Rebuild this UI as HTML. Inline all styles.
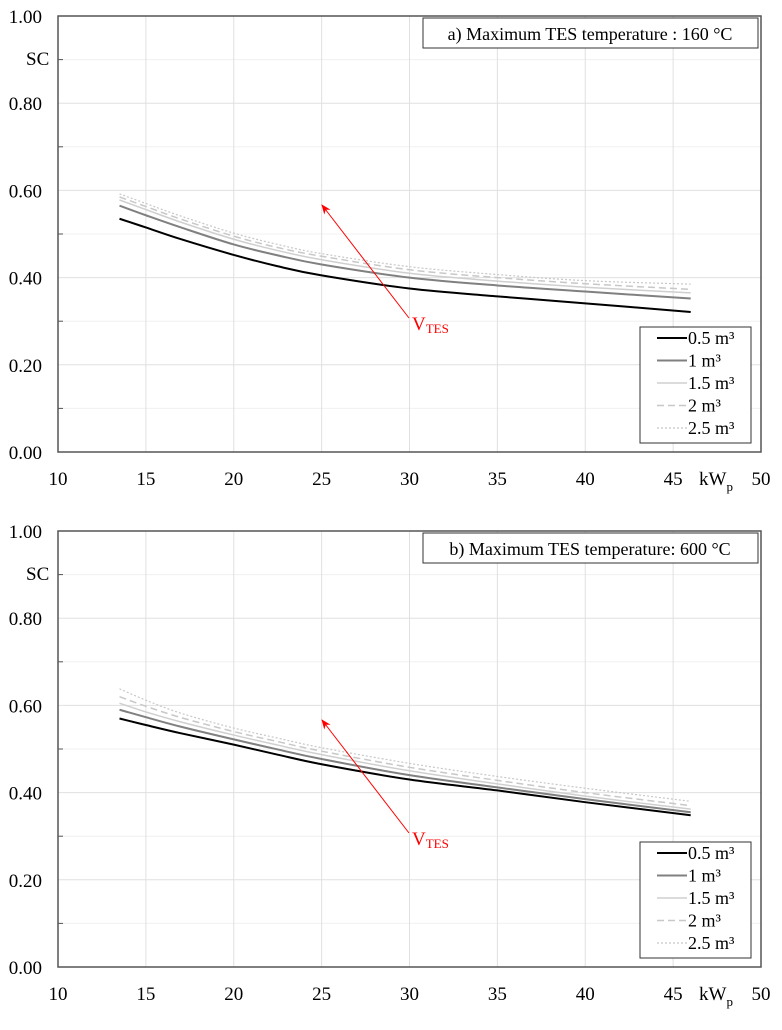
<!DOCTYPE html>
<html><head><meta charset="utf-8"><style>
body{margin:0;background:#fff;}
svg text{font-family:"Liberation Serif",serif;fill:#000;}
</style></head><body>
<svg id="c" width="782" height="1025" xmlns="http://www.w3.org/2000/svg"></svg>
<script>
const xVals=[13.5,15,17,20,22.5,25,30,35,40,46];
const seriesNames=["0.5 m³","1 m³","1.5 m³","2 m³","2.5 m³"];
const a05=[0.535,0.515,0.488,0.452,0.426,0.405,0.375,0.357,0.341,0.321];
const a1=[0.565,0.543,0.515,0.476,0.451,0.430,0.400,0.382,0.368,0.352];
const a15=[0.578,0.556,0.527,0.488,0.462,0.441,0.410,0.392,0.378,0.365];
const a2=[0.585,0.563,0.534,0.495,0.469,0.449,0.418,0.400,0.386,0.373];
const a25=[0.592,0.570,0.541,0.502,0.476,0.455,0.425,0.407,0.393,0.385];
const b05=[0.570,0.555,0.536,0.510,0.487,0.465,0.430,0.405,0.378,0.348];
const b1=[0.590,0.573,0.551,0.522,0.499,0.477,0.440,0.412,0.385,0.355];
const b15=[0.605,0.585,0.562,0.532,0.509,0.487,0.450,0.420,0.392,0.362];
const b2=[0.620,0.598,0.572,0.540,0.517,0.495,0.458,0.428,0.400,0.370];
const b25=[0.638,0.612,0.582,0.548,0.525,0.503,0.467,0.437,0.410,0.380];
const xTicks=[10,15,20,25,30,35,40,45,50];
const yTicks=[0,0.2,0.4,0.6,0.8,1.0];
const titles=["a) Maximum TES temperature : 160 °C","b) Maximum TES temperature: 600 °C"];

const NS="http://www.w3.org/2000/svg";
const svg=document.getElementById('c');
function mk(t,at,p){const e=document.createElementNS(NS,t);for(const k in at)e.setAttribute(k,at[k]);(p||svg).appendChild(e);return e;}
const styles=[{s:"#000",w:2,d:""},{s:"#808080",w:2,d:""},{s:"#cfcfcf",w:1.5,d:""},{s:"#c8c8c8",w:1.5,d:"7,4"},{s:"#c8c8c8",w:1.2,d:"2,2"}];
function smooth(pts){let d='M'+pts[0][0]+','+pts[0][1];
  for(let i=0;i<pts.length-1;i++){const p0=pts[Math.max(0,i-1)],p1=pts[i],p2=pts[i+1],p3=pts[Math.min(pts.length-1,i+2)];
    const c1=[p1[0]+(p2[0]-p0[0])/6,p1[1]+(p2[1]-p0[1])/6],c2=[p2[0]-(p3[0]-p1[0])/6,p2[1]-(p3[1]-p1[1])/6];
    d+='C'+c1[0]+','+c1[1]+' '+c2[0]+','+c2[1]+' '+p2[0]+','+p2[1];}
  return d;}

function panel(off,data,title,key){
  const L=58,R=761,T=16+off,B=452+off;
  const X=v=>L+(v-10)/40*(R-L), Y=v=>B-v*(B-T);
  const g=mk('g',{});
  
  
  for(let v=0.1;v<1;v+=0.2){mk('line',{x1:L,x2:R,y1:Y(v),y2:Y(v),stroke:"#f0f0f0","stroke-width":1},g);
    mk('line',{x1:L,x2:L+5,y1:Y(v),y2:Y(v),stroke:"#555"},g);}
  yTicks.forEach(v=>{if(v>0&&v<1)mk('line',{x1:L,x2:R,y1:Y(v),y2:Y(v),stroke:"#e0e0e0"},g);
    const t=mk('text',{x:42,y:Y(v)+7,"text-anchor":"end","font-size":19},g);t.textContent=v.toFixed(2);
    });
  xTicks.forEach(v=>{if(v>10&&v<50)mk('line',{x1:X(v),x2:X(v),y1:T,y2:B,stroke:"#e0e0e0"},g);
    const t=mk('text',{x:X(v),y:B+33,"text-anchor":"middle","font-size":19},g);t.textContent=v;
    });
  const fr=mk('rect',{x:L,y:T,width:R-L,height:B-T,fill:"none",stroke:"#555","stroke-width":1.5},g);
  
  const sc=mk('text',{x:26,y:T+49,"font-size":19},g);sc.textContent="SC";
  
  const xt=mk('text',{x:699,y:B+33,"font-size":19},g);xt.innerHTML='kW<tspan font-size="13" dy="6">p</tspan>';
  
  data.forEach((ys,i)=>{const st=styles[i];
    const p=mk('path',{d:smooth(ys.map((y,j)=>[X(xVals[j]),Y(y)])),fill:"none",stroke:st.s,"stroke-width":st.w,"stroke-dasharray":st.d},g);
    });
  mk('defs',{},g).innerHTML='<marker id="ah'+key+'" markerWidth="10" markerHeight="10" refX="9" refY="5" orient="auto"><path d="M0,1 L10,5 L0,9 L3,5z" fill="red"/></marker>';
  const ar=mk('line',{x1:409,y1:318+off,x2:322,y2:205+off,stroke:"red","stroke-width":1,"marker-end":"url(#ah"+key+")"},g);
  
  const vt=mk('text',{x:412,y:330+off,"font-size":19},g);vt.innerHTML='<tspan fill="red">V</tspan><tspan fill="red" font-size="13" dy="3">TES</tspan>';
  vt.style.fill="red";
  const tb=mk('rect',{x:423,y:18+off,width:335,height:30,fill:"#fff",stroke:"#333","stroke-width":1},g);
  
  const tt=mk('text',{x:590,y:40+off,"text-anchor":"middle","font-size":18},g);tt.textContent=title;
  
  const lg=mk('rect',{x:640,y:327+off,width:111,height:116,fill:"#fff",stroke:"#333","stroke-width":1},g);
  
  seriesNames.forEach((n,i)=>{const st=styles[i];const yy=338+off+i*22.5;
    const ln=mk('line',{x1:657,x2:687,y1:yy,y2:yy,stroke:st.s,"stroke-width":st.w,"stroke-dasharray":st.d},g);
    
    const t=mk('text',{x:688,y:yy+6,"font-size":18},g);t.textContent=n;
    });
}
panel(0,[a05,a1,a15,a2,a25],titles[0],'a');
panel(515,[b05,b1,b15,b2,b25],titles[1],'b');
</script>
</body></html>
